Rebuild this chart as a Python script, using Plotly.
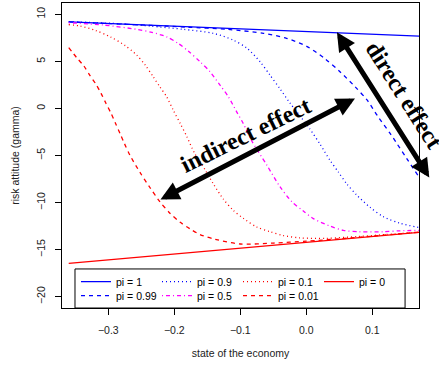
import plotly.graph_objects as go

# ---- data ----
x_pi1 = [-0.36, 0.175]
y_pi1 = [9.2, 7.67]

x_pi099 = [-0.36, -0.30, -0.237, -0.18, -0.12, -0.065, -0.030, 0.0006, 0.028, 0.051, 0.074,
           0.092, 0.109, 0.127, 0.137, 0.152, 0.170, 0.175]
y_pi099 = [9.2, 9.02, 8.83, 8.63, 8.4, 7.98, 7.45, 6.6, 5.3, 3.9, 2.3,
           0.9, -0.9, -2.65, -3.7, -5.3, -7.2, -7.7]

x_pi09 = [-0.36, -0.282, -0.237, -0.186, -0.141, -0.111, -0.090, -0.070, -0.055, -0.040, -0.025,
          -0.0095, 0.0056, 0.0208, 0.0359, 0.0485, 0.0612, 0.0764, 0.0965, 0.1167, 0.142, 0.175]
y_pi09 = [9.2, 9.0, 8.75, 8.4, 7.98, 7.27, 6.4, 4.96, 3.54, 2.1, 0.6,
          -0.8, -2.2, -3.8, -5.5, -6.75, -8.0, -9.2, -10.5, -11.5, -12.2, -12.7]

x_pi05 = [-0.36, -0.3076, -0.257, -0.234, -0.2115, -0.194, -0.179, -0.161, -0.146, -0.131, -0.118,
          -0.1055, -0.0955, -0.083, -0.060, -0.040, -0.022, -0.0045, 0.0106, 0.036, 0.056, 0.081,
          0.116, 0.142, 0.175]
y_pi05 = [9.1, 8.86, 8.4, 8.08, 7.6, 6.9, 6.1, 4.96, 3.9, 2.5, 1.23,
          -0.36, -1.6, -3.4, -6.0, -8.3, -9.9, -10.9, -11.7, -12.5, -12.95, -13.1,
          -13.1, -13.0, -12.95]

x_pi01 = [-0.36, -0.343, -0.320, -0.297, -0.275, -0.257, -0.244, -0.232, -0.222, -0.2115, -0.2015,
          -0.191, -0.181, -0.169, -0.153, -0.141, -0.126, -0.111, -0.095, -0.075, -0.055, -0.035,
          -0.0095, 0.03, 0.08, 0.12, 0.175]
y_pi01 = [8.9, 8.75, 8.3, 7.6, 6.7, 5.67, 4.6, 3.36, 2.3, 1.23, -0.2,
          -1.6, -3.0, -4.8, -6.56, -8.0, -9.6, -10.8, -11.7, -12.6, -13.1, -13.5,
          -13.75, -13.8, -13.6, -13.4, -13.12]

x_pi001 = [-0.36, -0.348, -0.337, -0.328, -0.319, -0.311, -0.304, -0.296, -0.289, -0.282, -0.2758,
           -0.267, -0.252, -0.237, -0.222, -0.207, -0.191, -0.176, -0.161, -0.138, -0.10, -0.05,
           0.0, 0.05, 0.10, 0.175]
y_pi001 = [6.45, 5.4, 4.5, 3.5, 2.6, 1.6, 0.6, -0.5, -1.6, -2.7, -3.7,
           -5.0, -6.8, -8.4, -9.9, -11.1, -12.1, -12.8, -13.4, -13.9, -14.4, -14.3,
           -14.1, -13.85, -13.57, -13.12]

x_pi0 = [-0.36, 0.175]
y_pi0 = [-16.45, -13.15]

x_ticks = [-0.3, -0.2, -0.1, 0.0, 0.1]
x_ticklabels = ["\u22120.3", "\u22120.2", "\u22120.1", "0.0", "0.1"]
y_ticks = [-20, -15, -10, -5, 0, 5, 10]
y_ticklabels = ["\u221220", "\u221215", "\u221210", "\u22125", "0", "5", "10"]

FONT = "Liberation Sans, Arial, sans-serif"
SERIF = "Liberation Serif, Times New Roman, serif"
BLUE, RED, MAG = "#0000FF", "#FF0000", "#FF00FF"
DASH = "4px,4px"
DOT = "1px,3px"
DASHDOT = "1px,3px,4px,3px"
LW = 1.3

fig = go.Figure()

def add(x, y, name, color, dash, legend):
    fig.add_trace(go.Scatter(
        x=x, y=y, mode="lines", name=name, legend=legend,
        line=dict(color=color, width=LW, dash=dash, shape="spline", smoothing=0.8),
        hoverinfo="skip"))

# row 1 of legend
add(x_pi1, y_pi1, "pi = 1", BLUE, "solid", "legend")
add(x_pi09, y_pi09, "pi = 0.9", BLUE, DOT, "legend")
add(x_pi01, y_pi01, "pi = 0.1", RED, DOT, "legend")
add(x_pi0, y_pi0, "pi = 0", RED, "solid", "legend")
# row 2 of legend
add(x_pi099, y_pi099, "pi = 0.99", BLUE, DASH, "legend2")
add(x_pi05, y_pi05, "pi = 0.5", MAG, DASHDOT, "legend2")
add(x_pi001, y_pi001, "pi = 0.01", RED, DASH, "legend2")

legend_common = dict(orientation="h", xanchor="left", yanchor="top",
                     bgcolor="rgba(0,0,0,0)", borderwidth=0,
                     font=dict(family=FONT, size=10.5, color="#000"),
                     entrywidth=36, entrywidthmode="pixels", itemwidth=30,
                     traceorder="normal")

fig.update_layout(
    width=439, height=367,
    margin=dict(l=62, r=20, t=3, b=59, autoexpand=False),
    paper_bgcolor="white", plot_bgcolor="white",
    font=dict(family=FONT, size=10.5, color="#000"),
    showlegend=True,
    legend=dict(x=0.0392, y=0.1338, **legend_common),
    legend2=dict(x=0.0392, y=0.0879, **legend_common),
    xaxis=dict(range=[-0.3702, 0.1708], tickvals=x_ticks, ticktext=x_ticklabels,
               automargin=False, ticklabelstandoff=6,
               ticks="outside", ticklen=6, tickcolor="#000", showline=True, mirror=True,
               linecolor="#000", linewidth=1, showgrid=False, zeroline=False,
               tickfont=dict(family=FONT, size=10.5, color="#222"),
               title=dict(text="state of the economy", standoff=15,
                          font=dict(family=FONT, size=10.5, color="#222"))),
    yaxis=dict(range=[-21.2, 11.2], tickvals=y_ticks, ticktext=y_ticklabels, tickangle=-90,
               automargin=False, ticklabelstandoff=6,
               ticks="outside", ticklen=6, tickcolor="#000", showline=True, mirror=True,
               linecolor="#000", linewidth=1, showgrid=False, zeroline=False,
               tickfont=dict(family=FONT, size=10.5, color="#222"),
               title=dict(text="risk attitude (gamma)", standoff=13,
                          font=dict(family=FONT, size=10.5, color="#222"))),
)

# legend box
fig.add_shape(type="rect", xref="paper", yref="paper", x0=0.0364, x1=0.961, y0=0.0, y1=0.128,
              line=dict(color="#000", width=1), fillcolor="white", layer="below")

# double-headed arrows
fig.add_annotation(x=0.0738, y=1.06, ax=-0.2232, ay=-9.76, axref="x", ayref="y",
                   xref="x", yref="y", text="", showarrow=True, arrowside="end+start",
                   arrowhead=2, startarrowhead=2, arrowsize=0.75, startarrowsize=0.75,
                   arrowwidth=5, arrowcolor="#000")
fig.add_annotation(x=0.1864, y=-7.34, ax=0.045, ay=8.26, axref="x", ayref="y",
                   xref="x", yref="y", text="", showarrow=True, arrowside="end+start",
                   arrowhead=2, startarrowhead=2, arrowsize=0.75, startarrowsize=0.75,
                   arrowwidth=5, arrowcolor="#000")

fig.add_annotation(x=-0.0921, y=-2.87, xref="x", yref="y", text="indirect effect",
                   showarrow=False, textangle=-26,
                   font=dict(family=SERIF, size=24, color="#000", weight="bold"))
fig.add_annotation(x=0.148, y=1.41, xref="x", yref="y", text="direct effect",
                   showarrow=False, textangle=57.6,
                   font=dict(family=SERIF, size=24, color="#000", weight="bold"))

fig.write_html("out.html", config={"displayModeBar": False},
               post_script="document.body.style.margin='0';document.body.style.padding='0';")
